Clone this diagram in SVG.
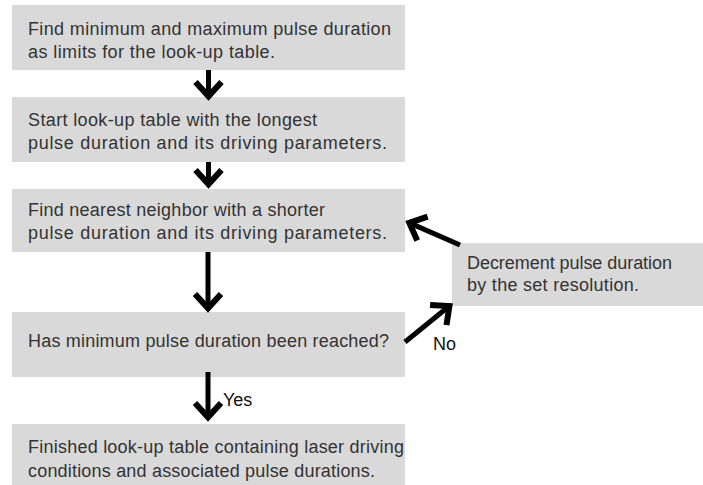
<svg xmlns="http://www.w3.org/2000/svg" width="703" height="485" viewBox="0 0 703 485">
<defs>
<style>
.box{fill:#d9d9d9;}
.t{font-family:"Liberation Sans",Arial,sans-serif;font-size:18px;fill:#333;}
.lbl{font-family:"Liberation Sans",Arial,sans-serif;font-size:18px;fill:#111;}
.c{stroke:#000;stroke-width:5;fill:none;}
</style>
<marker id="ah" markerUnits="userSpaceOnUse" viewBox="-20 -16 26 32" markerWidth="26" markerHeight="32" refX="0" refY="0" orient="auto" overflow="visible">
<path d="M-13,-13 L1.3,0 L-13,13" fill="none" stroke="#000" stroke-width="6" stroke-linejoin="miter"/>
</marker>
</defs>
<rect width="703" height="485" fill="#fff"/>
<g id="n1"><rect class="box" x="12" y="5" width="393" height="65"/>
<text class="t" x="28" y="35" textLength="363">Find minimum and maximum pulse duration</text>
<text class="t" x="28" y="58" textLength="247">as limits for the look-up table.</text></g>
<g id="n2"><rect class="box" x="12" y="97" width="393" height="65"/>
<text class="t" x="28" y="126" textLength="289">Start look-up table with the longest</text>
<text class="t" x="28" y="149" textLength="359">pulse duration and its driving parameters.</text></g>
<g id="n3"><rect class="box" x="12" y="189" width="393" height="63"/>
<text class="t" x="28" y="216" textLength="297">Find nearest neighbor with a shorter</text>
<text class="t" x="28" y="239" textLength="359">pulse duration and its driving parameters.</text></g>
<g id="n4"><rect class="box" x="12" y="312" width="393" height="65"/>
<text class="t" x="28" y="347" textLength="361">Has minimum pulse duration been reached?</text></g>
<g id="n5"><rect class="box" x="12" y="424" width="393" height="61"/>
<text class="t" x="28" y="453" textLength="376">Finished look-up table containing laser driving</text>
<text class="t" x="28" y="477" textLength="347">conditions and associated pulse durations.</text></g>
<g id="n6"><rect class="box" x="452" y="243" width="251" height="63"/>
<text class="t" x="467" y="269" textLength="205">Decrement pulse duration</text>
<text class="t" x="467" y="291" textLength="172">by the set resolution.</text></g>
<g id="connectors">
<line class="c" x1="208.5" y1="70" x2="208.5" y2="95" marker-end="url(#ah)"/>
<line class="c" x1="208.5" y1="162" x2="208.5" y2="183" marker-end="url(#ah)"/>
<line class="c" x1="208" y1="252" x2="208" y2="307" marker-end="url(#ah)"/>
<line class="c" x1="208" y1="372" x2="208" y2="416" marker-end="url(#ah)"/>
<line class="c" x1="460" y1="245" x2="410.5" y2="223.4" marker-end="url(#ah)"/>
<line class="c" x1="405" y1="342" x2="448.4" y2="306.8" marker-end="url(#ah)"/>
<text class="lbl" x="223" y="406">Yes</text>
<text class="lbl" x="433" y="350">No</text>
</g>
</svg>
